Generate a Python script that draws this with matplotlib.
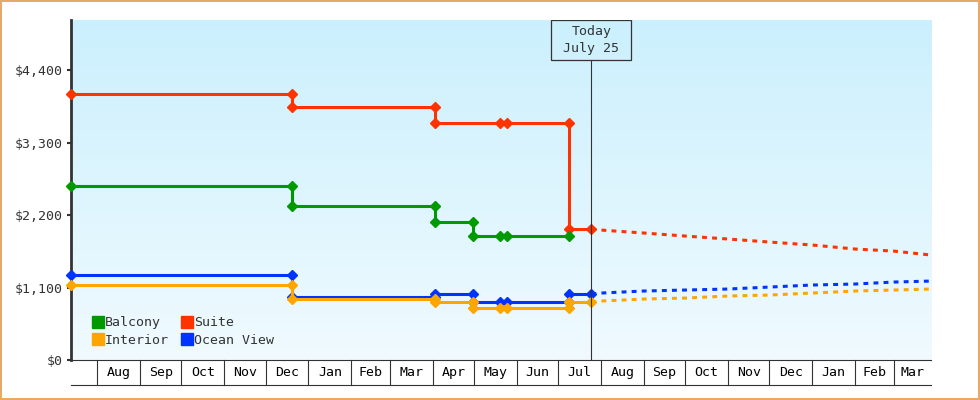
import datetime as dt
import numpy as np
import matplotlib
matplotlib.use("Agg")
import matplotlib.pyplot as plt
import matplotlib.dates as mdates
import matplotlib.transforms as mtransforms
from matplotlib.patches import Rectangle
from matplotlib.lines import Line2D

D = dt.date

# axis range and "today"
x_start = D(2024, 7, 13)
x_end = D(2026, 3, 28)
today = D(2025, 7, 25)

# observed prices (step lines)
suite_dates = [D(2024, 7, 13), D(2024, 12, 20), D(2025, 4, 3), D(2025, 5, 20), D(2025, 5, 25), D(2025, 7, 9), D(2025, 7, 25)]
suite_prices = [4035, 3840, 3595, 3595, 3595, 1987, 1987]

balcony_dates = [D(2024, 7, 13), D(2024, 12, 20), D(2025, 4, 3), D(2025, 4, 30), D(2025, 5, 20), D(2025, 5, 25), D(2025, 7, 9)]
balcony_prices = [2640, 2336, 2093, 1881, 1881, 1881, 1881]

interior_dates = [D(2024, 7, 13), D(2024, 12, 20), D(2025, 4, 3), D(2025, 4, 30), D(2025, 5, 20), D(2025, 5, 25), D(2025, 7, 9), D(2025, 7, 25)]
interior_prices = [1138, 930, 885, 790, 790, 790, 880, 880]

ocean_dates = [D(2024, 7, 13), D(2024, 12, 20), D(2025, 4, 3), D(2025, 4, 30), D(2025, 5, 20), D(2025, 5, 25), D(2025, 7, 9), D(2025, 7, 25)]
ocean_prices = [1290, 960, 995, 880, 880, 880, 1000, 1000]

# forecast (dotted)
fc_dates = [D(2025, 7, 25), D(2025, 8, 1), D(2025, 9, 1), D(2025, 10, 1), D(2025, 11, 1), D(2025, 12, 1),
            D(2026, 1, 1), D(2026, 2, 1), D(2026, 3, 1), D(2026, 3, 28)]
suite_fc = [1987, 1972, 1927, 1881, 1836, 1790, 1745, 1684, 1653, 1593]
ocean_fc = [1000, 1016, 1047, 1062, 1077, 1107, 1138, 1153, 1183, 1198]
interior_fc = [880, 895, 925, 940, 971, 986, 1016, 1047, 1062, 1077]

y_ticks = [0, 1100, 2200, 3300, 4400]
y_max = 5160

colors = {"Balcony": "#009900", "Suite": "#ff3300", "Interior": "#ffa500", "Ocean View": "#0033ff"}
ink = "#333333"
mono = "DejaVu Sans Mono"
fs = 9.5


def step_vertices(dates, prices):
    xs, ys = [dates[0]], [prices[0]]
    for d, p in zip(dates[1:], prices[1:]):
        if p != ys[-1]:
            xs.append(d)
            ys.append(ys[-1])
        xs.append(d)
        ys.append(p)
    return xs, ys


fig = plt.figure(figsize=(9.8, 4), dpi=100, facecolor="white", edgecolor="#e6aa66", linewidth=1.5)
ax = fig.add_axes([71 / 980, 40 / 400, 860 / 980, 340 / 400])

# gradient background
top = np.array([203, 240, 253]) / 255
bot = np.array([240, 250, 255]) / 255
t = np.linspace(0, 1, 256)[:, None]
grad = (top * (1 - t) + bot * t)[:, None, :]
ax.imshow(grad, extent=[0, 1, 0, 1], transform=ax.transAxes, aspect="auto", zorder=0)

series = [
    ("Suite", suite_dates, suite_prices),
    ("Balcony", balcony_dates, balcony_prices),
    ("Ocean View", ocean_dates, ocean_prices),
    ("Interior", interior_dates, interior_prices),
]
for name, ds, ps in series:
    xs, ys = step_vertices(ds, ps)
    ax.plot(xs, ys, color=colors[name], lw=2.2, marker="D", ms=5.3, mew=1,
            solid_joinstyle="miter", zorder=3, clip_on=False)

for name, fc in [("Suite", suite_fc), ("Ocean View", ocean_fc), ("Interior", interior_fc)]:
    ax.plot(fc_dates, fc, color=colors[name], lw=2.2, linestyle=(0, (1.6, 1.7)), zorder=3)

ax.set_xlim(x_start, x_end)
ax.set_ylim(0, y_max)

# today marker
blend = mtransforms.blended_transform_factory(ax.transData, ax.transAxes)
tnum = mdates.date2num(today)
box_h = 40 / 340
box_w = 80 / 1.38
ax.plot([tnum, tnum], [0, 1 - box_h], transform=blend, color=ink, lw=0.8, zorder=4)
ax.add_patch(Rectangle((tnum - box_w / 2, 1 - box_h), box_w, box_h, transform=blend,
                       fill=False, ec=ink, lw=0.9, zorder=4))
ax.text(tnum, 1 - box_h / 2, "Today\nJuly 25", transform=blend, ha="center", va="center",
        family=mono, fontsize=fs, color=ink, linespacing=1.4, zorder=5)

# spines and y axis
for s in ["top", "right"]:
    ax.spines[s].set_visible(False)
ax.spines["left"].set_color(ink)
ax.spines["left"].set_linewidth(2)
ax.spines["bottom"].set_color(ink)
ax.spines["bottom"].set_linewidth(0.8)
ax.set_yticks(y_ticks)
ax.set_yticklabels(["$" + format(v, ",") for v in y_ticks], family=mono, fontsize=fs, color=ink)
ax.tick_params(axis="y", length=3, width=1.5, color=ink, pad=3)
ax.set_xticks([])

# month cells below the axis
cell_h = 25 / 340
ax.plot([0, 1], [-cell_h, -cell_h], transform=ax.transAxes, color=ink, lw=0.8, clip_on=False)
bounds = [x_start]
m = D(2024, 8, 1)
while m < x_end:
    bounds.append(m)
    m = D(m.year + (m.month == 12), m.month % 12 + 1, 1)
bounds.append(x_end)
for b in bounds[1:-1]:
    bn = mdates.date2num(b)
    ax.plot([bn, bn], [0, -cell_h], transform=blend, color=ink, lw=0.8, clip_on=False)
for a, b in zip(bounds[:-1], bounds[1:]):
    if (b - a).days < 20:
        continue
    mid = (mdates.date2num(a) + mdates.date2num(b)) / 2
    ax.text(mid, -cell_h / 2, a.strftime("%b"), transform=blend, ha="center", va="center",
            family=mono, fontsize=fs, color="black")

# legend
handles = [Line2D([], [], color=colors[n], marker="s", ls="none", ms=8) for n in
           ["Balcony", "Interior", "Suite", "Ocean View"]]
leg = ax.legend(handles, ["Balcony", "Interior", "Suite", "Ocean View"], ncol=2, loc="lower left",
                bbox_to_anchor=(0.01, 0.0), frameon=False, prop={"family": mono, "size": fs},
                handlelength=0.8, handletextpad=0.1, columnspacing=1.0, labelspacing=0.35,
                borderaxespad=0.6)
for txt in leg.get_texts():
    txt.set_color(ink)

fig.savefig("out.png", dpi=100, facecolor="white", edgecolor=fig.get_edgecolor())
